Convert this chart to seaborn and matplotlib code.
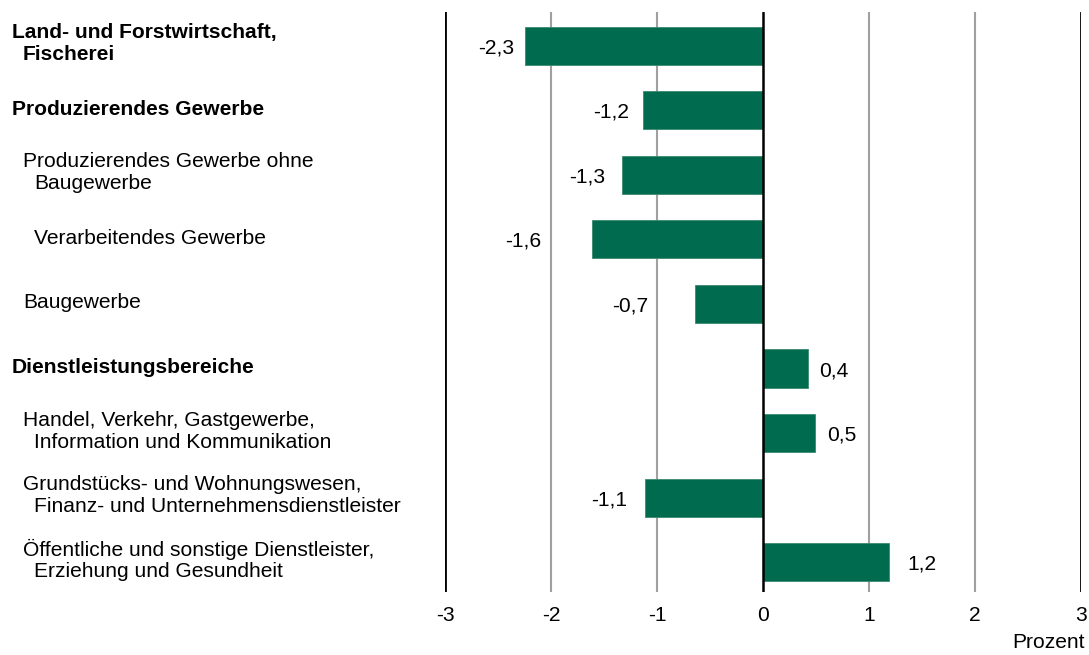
"""Bruttowertschöpfung nach Wirtschaftsbereichen, Veränderung in Prozent."""

import matplotlib

matplotlib.use("Agg")
import matplotlib.pyplot as plt
import pandas as pd
import seaborn as sns

categories = [
    "Land- und Forstwirtschaft,\nFischerei",
    "Produzierendes Gewerbe",
    "Produzierendes Gewerbe ohne\nBaugewerbe",
    "Verarbeitendes Gewerbe",
    "Baugewerbe",
    "Dienstleistungsbereiche",
    "Handel, Verkehr, Gastgewerbe,\nInformation und Kommunikation",
    "Grundstücks- und Wohnungswesen,\nFinanz- und Unternehmensdienstleister",
    "Öffentliche und sonstige Dienstleister,\nErziehung und Gesundheit",
]
levels = [0, 0, 1, 2, 1, 0, 1, 1, 1]
values = [-2.25, -1.13, -1.33, -1.61, -0.64, 0.42, 0.49, -1.11, 1.19]
value_labels = ["-2,3", "-1,2", "-1,3", "-1,6", "-0,7", "0,4", "0,5", "-1,1", "1,2"]
x_ticks = [-3, -2, -1, 0, 1, 2, 3]

GREEN = "#006b4f"
FONT = 15.1
# gap (pixels) between bar end and its value label, as in the original layout
label_gap = [10, 14, 17, 51, 47, 12, 12, 18, 18]

sns.set_style("white")
plt.rcParams["font.family"] = ["Liberation Sans", "DejaVu Sans"]
plt.rcParams["text.color"] = "black"
plt.rcParams["xtick.color"] = "black"

df = pd.DataFrame({"kategorie": categories, "wert": values})

fig = plt.figure(figsize=(10.89, 6.55), dpi=100)
ax = fig.add_axes([445 / 1089, 63 / 655, 636 / 1089, 580 / 655])

# grid lines first, bars on top
for t in x_ticks:
    if t in (-3, 3):
        ax.axvline(t, color="black", lw=2, zorder=0)
    elif t != 0:
        ax.axvline(t, color="#a0a0a0", lw=1.5, zorder=0)

sns.barplot(data=df, x="wert", y="kategorie", orient="h", color=GREEN,
            width=0.59, saturation=1, edgecolor="#3a8a6e", linewidth=0.6,
            ax=ax, zorder=2)
ax.axvline(0, color="black", lw=1.8, zorder=3)

ax.set_xlim(-3, 3)
ax.set_ylim(len(categories) - 0.54, -0.52)
ax.set_xticks(x_ticks)
ax.set_xticklabels([str(t) for t in x_ticks], fontsize=FONT)
ax.tick_params(axis="x", length=0, pad=10, labelcolor="black")
ax.set_yticks([])
ax.set_xlabel("")
ax.set_ylabel("")
for s in ax.spines.values():
    s.set_visible(False)

# value labels next to the bars
for i, (v, lab) in enumerate(zip(values, value_labels)):
    off = label_gap[i] if v >= 0 else -label_gap[i]
    ax.annotate(lab, xy=(v, i), xytext=(off, -2), textcoords="offset pixels",
                ha="left" if v >= 0 else "right", va="center",
                fontsize=FONT, color="black")

# category labels on the left, indented by level
for i, (cat, lvl) in enumerate(zip(categories, levels)):
    lines = cat.split("\n")
    weight = "bold" if lvl == 0 else "normal"
    x0 = 12 + 11 * lvl
    offsets = [0] if len(lines) == 1 else [12, -10]
    for j, line in enumerate(lines):
        ax.annotate(line, xy=(x0 + (11 if j > 0 else 0), i),
                    xycoords=("figure pixels", "data"),
                    xytext=(0, offsets[j] + 1), textcoords="offset pixels",
                    ha="left", va="center", fontsize=FONT, fontweight=weight,
                    color="black", annotation_clip=False)

fig.text(1085 / 1089, 12 / 655, "Prozent", ha="right", va="center",
         fontsize=FONT, color="black")

fig.savefig("out.png", dpi=100)
plt.close(fig)
